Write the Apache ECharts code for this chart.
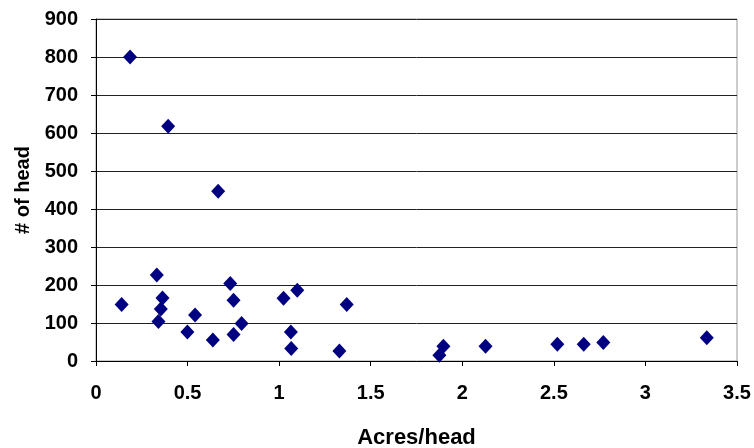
<!DOCTYPE html>
<html><head><meta charset="utf-8">
<script src="https://cdn.jsdelivr.net/npm/echarts@6/dist/echarts.min.js"></script>
<style>html,body{margin:0;padding:0;background:#fff}#c{width:754px;height:448px}</style>
</head><body><div id="c"></div>
<script>
const acresPerHead = [0.186, 0.394, 0.667, 0.140, 0.332, 0.363, 0.354, 0.341, 0.541, 0.499, 0.638, 0.733, 0.751, 0.751, 0.795, 1.024, 1.099, 1.064, 1.066, 1.369, 1.329, 1.875, 1.897, 2.127, 2.519, 2.663, 2.770, 3.335];
const numHead = [800, 618, 447, 149, 226, 166, 137, 104, 121, 76, 55, 204, 160, 70, 99, 165, 186, 76, 33, 149, 26, 15, 39, 39, 44, 44, 49, 61];
const xTicks = [0, 0.5, 1, 1.5, 2, 2.5, 3, 3.5];
const yTicks = [0, 100, 200, 300, 400, 500, 600, 700, 800, 900];
const xTitle = 'Acres/head';
const yTitle = '# of head';

const points = acresPerHead.map((x, i) => [x, numHead[i]]);
const font = 'Liberation Sans, Arial, sans-serif';
const chart = echarts.init(document.getElementById('c'));
chart.setOption({
  animation: false,
  grid: { left: 96, right: 17, top: 19, bottom: 87, show: true, borderColor: '#999', borderWidth: 1,
          containLabel: false, outerBoundsMode: 'none' },
  xAxis: {
    type: 'value', min: xTicks[0], max: xTicks[xTicks.length - 1], interval: 0.5,
    name: xTitle, nameLocation: 'middle', nameGap: 66,
    nameTextStyle: { fontFamily: font, fontWeight: 'bold', fontSize: 22, color: '#000' },
    axisLine: { show: true, lineStyle: { color: '#000', width: 1 } },
    axisTick: { show: true, inside: false, length: 5, lineStyle: { color: '#000' } },
    axisLabel: { fontFamily: font, fontWeight: 'bold', fontSize: 20, color: '#000', margin: 22 },
    splitLine: { show: false }
  },
  yAxis: {
    type: 'value', min: yTicks[0], max: yTicks[yTicks.length - 1], interval: 100,
    name: yTitle, nameLocation: 'middle', nameGap: 63, nameRotate: 90,
    nameTextStyle: { fontFamily: font, fontWeight: 'bold', fontSize: 20, color: '#000' },
    axisLine: { show: true, lineStyle: { color: '#000', width: 1 } },
    axisTick: { show: true, inside: false, length: 5, lineStyle: { color: '#000' } },
    axisLabel: { fontFamily: font, fontWeight: 'bold', fontSize: 20, color: '#000', margin: 18 },
    splitLine: { show: true, lineStyle: { color: '#222', width: 1 } }
  },
  series: [{
    type: 'scatter', data: points, symbol: 'diamond', symbolSize: [14, 15],
    itemStyle: { color: '#000080', opacity: 1 }
  }]
});
</script></body></html>
